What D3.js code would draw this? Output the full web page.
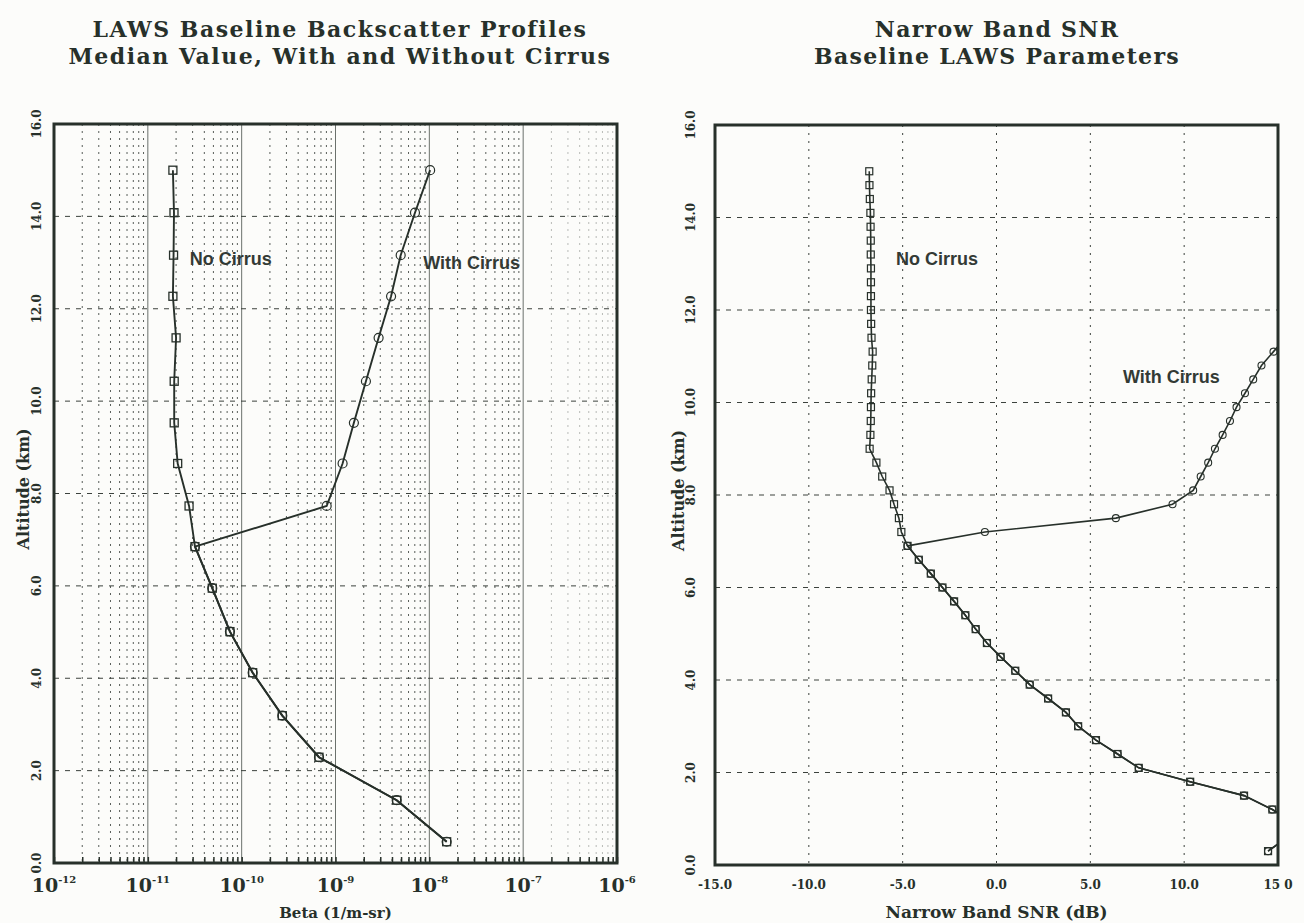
<!DOCTYPE html>
<html>
<head>
<meta charset="utf-8">
<script src="https://cdn.jsdelivr.net/npm/d3@7/dist/d3.min.js"></script>
<style>
  body { margin: 0; background: #fcfcfa; }
  svg { display: block; }
</style>
</head>
<body>
<div class="graph-goes-here"></div>
<script>
// ---- left panel: backscatter profiles (beta in 1/m-sr, altitude in km)
var betaAltitude = [0.46, 1.36, 2.29, 3.19, 4.12, 5.01, 5.95, 6.85, 7.73, 8.65, 9.53, 10.43, 11.37, 12.27, 13.16, 14.08, 15.0];
var betaNoCirrus = [1.53e-8, 4.49e-9, 6.67e-10, 2.71e-10, 1.31e-10, 7.5e-11, 4.86e-11, 3.18e-11, 2.75e-11, 2.08e-11, 1.91e-11, 1.91e-11, 2.0e-11, 1.85e-11, 1.88e-11, 1.9e-11, 1.85e-11];
var betaWithCirrus = [1.53e-8, 4.49e-9, 6.67e-10, 2.71e-10, 1.31e-10, 7.5e-11, 4.86e-11, 3.18e-11, 8.05e-10, 1.19e-9, 1.57e-9, 2.11e-9, 2.88e-9, 3.91e-9, 4.95e-9, 7.03e-9, 1.02e-8];
var betaDecades = [1e-12, 1e-11, 1e-10, 1e-9, 1e-8, 1e-7, 1e-6];
var betaExponents = ["-12", "-11", "-10", "-9", "-8", "-7", "-6"];

// ---- right panel: narrow band SNR (dB)
var snrAltitude = [15.0, 14.7, 14.4, 14.1, 13.8, 13.5, 13.2, 12.9, 12.6, 12.3, 12.0, 11.7, 11.4, 11.1, 10.8, 10.5, 10.2, 9.9, 9.6, 9.3, 9.0,
  8.7, 8.4, 8.1, 7.8, 7.5, 7.2, 6.9,
  6.6, 6.3, 6.0, 5.7, 5.4, 5.1, 4.8, 4.5, 4.2, 3.9, 3.6, 3.3, 3.0, 2.7, 2.4, 2.1, 1.8, 1.5, 1.2,
  0.9, 0.6, 0.3];
var snrNoCirrus = [-6.78, -6.77, -6.75, -6.72, -6.71, -6.70, -6.70, -6.69, -6.69, -6.69, -6.69, -6.68, -6.66, -6.60, -6.62, -6.65, -6.68, -6.69, -6.70, -6.72, -6.76,
  -6.40, -6.09, -5.70, -5.46, -5.20, -5.07, -4.74,
  -4.14, -3.50, -2.88, -2.26, -1.66, -1.11, -0.51, 0.22, 1.0, 1.77, 2.75, 3.7, 4.35, 5.3, 6.45, 7.58, 10.32, 13.19, 14.70,
  15.9, 15.5, 14.47];
var snrCirrusAltitude = [11.4, 11.1, 10.8, 10.5, 10.2, 9.9, 9.6, 9.3, 9.0, 8.7, 8.4, 8.1, 7.8, 7.5, 7.2, 6.9,
  6.6, 6.3, 6.0, 5.7, 5.4, 5.1, 4.8, 4.5, 4.2, 3.9, 3.6, 3.3, 3.0, 2.7, 2.4, 2.1, 1.8, 1.5, 1.2, 0.9, 0.6, 0.3];
var snrWithCirrus = [15.4, 14.76, 14.12, 13.68, 13.24, 12.79, 12.44, 12.05, 11.64, 11.28, 10.88, 10.48, 9.38, 6.36, -0.62, -4.74,
  -4.14, -3.50, -2.88, -2.26, -1.66, -1.11, -0.51, 0.22, 1.0, 1.77, 2.75, 3.7, 4.35, 5.3, 6.45, 7.58, 10.32, 13.19, 14.70, 15.9, 15.5, 14.47];
var snrTicks = [-15, -10, -5, 0, 5, 10, 15];
var snrTickLabels = ["-15.0", "-10.0", "-5.0", "0.0", "5.0", "10.0", "15 0"];

var altTicks = [0, 2, 4, 6, 8, 10, 12, 14, 16];

var ink = "#27302a";
var serif = "'DejaVu Serif', serif";
var sans = "'Liberation Sans', Arial, sans-serif";

var svg = d3.select(".graph-goes-here")
    .append("svg")
    .attr("width", 1304)
    .attr("height", 923);

svg.append("rect").attr("width", 1304).attr("height", 923).attr("fill", "#fcfcfa");

function addTitle(g, cx, lines, spacing) {
    lines.forEach(function (t, i) {
        g.append("text")
            .attr("x", cx).attr("y", 37 + i * 27)
            .attr("text-anchor", "middle")
            .attr("font-family", serif).attr("font-weight", "bold").attr("font-size", 22)
            .attr("letter-spacing", spacing)
            .attr("fill", ink)
            .text(t);
    });
}

// ---------------- LEFT PANEL ----------------
var lx = d3.scaleLog().domain([1e-12, 1e-6]).range([54, 617]);
var ly = d3.scaleLinear().domain([0, 16]).range([863, 124]);

var left = svg.append("g");

// minor dotted verticals
var minorBeta = [];
betaDecades.slice(0, -1).forEach(function (d) {
    for (var m = 2; m <= 9; m++) minorBeta.push(d * m);
});
left.append("g").selectAll("line")
    .data(minorBeta)
    .join("line")
    .attr("x1", d => lx(d)).attr("x2", d => lx(d))
    .attr("y1", ly(16)).attr("y2", ly(0))
    .attr("stroke", "#3c423d")
    .attr("stroke-opacity", d => d > 1e-7 ? 0.35 : 0.85)
    .attr("stroke-width", 1)
    .attr("stroke-dasharray", "2,5");

// decade solid verticals
left.append("g").selectAll("line")
    .data(betaDecades.slice(1, -1))
    .join("line")
    .attr("x1", d => lx(d)).attr("x2", d => lx(d))
    .attr("y1", ly(16)).attr("y2", ly(0))
    .attr("stroke", "#6b716c")
    .attr("stroke-width", 1);

// dashed horizontals
left.append("g").selectAll("line")
    .data(altTicks.slice(1, -1))
    .join("line")
    .attr("x1", lx(1e-12)).attr("x2", lx(1e-6))
    .attr("y1", d => ly(d)).attr("y2", d => ly(d))
    .attr("stroke", "#3c423d")
    .attr("stroke-width", 1)
    .attr("stroke-dasharray", "5,6");

// bottom ticks
left.append("g")
    .attr("transform", "translate(0," + ly(0) + ")")
    .call(d3.axisBottom(lx).tickValues(minorBeta.concat(betaDecades)).tickSize(-6).tickFormat(""))
    .call(g => g.select(".domain").remove())
    .call(g => g.selectAll(".tick line").attr("stroke", ink).attr("stroke-width", 1.5));

var lineL = d3.line().x(d => lx(d[0])).y(d => ly(d[1]));
var noCirrusL = betaNoCirrus.map((v, i) => [v, betaAltitude[i]]);
var withCirrusL = betaWithCirrus.map((v, i) => [v, betaAltitude[i]]);

left.append("path").datum(withCirrusL)
    .attr("fill", "none").attr("stroke", ink).attr("stroke-width", 1.9)
    .attr("d", lineL);
left.append("path").datum(noCirrusL)
    .attr("fill", "none").attr("stroke", ink).attr("stroke-width", 1.9)
    .attr("d", lineL);

left.append("g").selectAll("rect")
    .data(noCirrusL)
    .join("rect")
    .attr("x", d => lx(d[0]) - 4).attr("y", d => ly(d[1]) - 4)
    .attr("width", 8).attr("height", 8)
    .attr("fill", "none").attr("stroke", ink).attr("stroke-width", 1.3);
left.append("g").selectAll("circle")
    .data(withCirrusL)
    .join("circle")
    .attr("cx", d => lx(d[0])).attr("cy", d => ly(d[1]))
    .attr("r", 4.5)
    .attr("fill", "none").attr("stroke", ink).attr("stroke-width", 1.2);

// frame
left.append("rect")
    .attr("x", lx(1e-12)).attr("y", ly(16))
    .attr("width", lx(1e-6) - lx(1e-12)).attr("height", ly(0) - ly(16))
    .attr("fill", "none").attr("stroke", ink).attr("stroke-width", 3);

// x labels 10^n
var lxLabels = left.append("g").selectAll("text")
    .data(betaDecades)
    .join("text")
    .attr("x", d => lx(d))
    .attr("y", 892)
    .attr("text-anchor", "middle")
    .attr("font-family", serif).attr("font-weight", "bold")
    .attr("fill", ink);
lxLabels.append("tspan").attr("font-size", 19).text("10");
lxLabels.append("tspan").attr("font-size", 10).attr("dy", -9).text((d, i) => betaExponents[i]);

// y labels
left.append("g").selectAll("text")
    .data(altTicks)
    .join("text")
    .attr("transform", d => "translate(" + (lx(1e-12) - 17) + "," + ly(d) + ") rotate(-90)")
    .attr("dy", "0.35em")
    .attr("text-anchor", "middle")
    .attr("font-family", serif).attr("font-weight", "bold").attr("font-size", 12)
    .attr("fill", ink)
    .text(d3.format(".1f"));

left.append("text")
    .attr("x", (lx(1e-12) + lx(1e-6)) / 2).attr("y", 918)
    .attr("text-anchor", "middle")
    .attr("font-family", serif).attr("font-weight", "bold").attr("font-size", 15)
    .attr("fill", ink)
    .text("Beta (1/m-sr)");

left.append("text")
    .attr("transform", "translate(29," + ly(8.1) + ") rotate(-90)")
    .attr("text-anchor", "middle")
    .attr("font-family", serif).attr("font-weight", "bold").attr("font-size", 16)
    .attr("fill", ink)
    .text("Altitude (km)");

left.append("text").attr("x", lx(2.8e-11)).attr("y", ly(12.95))
    .attr("font-family", sans).attr("font-weight", "bold").attr("font-size", 18)
    .attr("fill", "#333a35").text("No Cirrus");
left.append("text").attr("x", lx(8.6e-9)).attr("y", ly(12.86))
    .attr("font-family", sans).attr("font-weight", "bold").attr("font-size", 18)
    .attr("fill", "#333a35").text("With Cirrus");

addTitle(left, 340, ["LAWS Baseline Backscatter Profiles", "Median Value, With and Without Cirrus"], 1.5);

// ---------------- RIGHT PANEL ----------------
var rx = d3.scaleLinear().domain([-15, 15]).range([715, 1278]);
var ry = d3.scaleLinear().domain([0, 16]).range([865, 125]);

var right = svg.append("g");

right.append("defs").append("clipPath").attr("id", "clip-right")
    .append("rect")
    .attr("x", rx(-15)).attr("y", ry(16))
    .attr("width", rx(15) - rx(-15)).attr("height", ry(0) - ry(16));

right.append("g").selectAll("line")
    .data(snrTicks.slice(1, -1))
    .join("line")
    .attr("x1", d => rx(d)).attr("x2", d => rx(d))
    .attr("y1", ry(16)).attr("y2", ry(0))
    .attr("stroke", "#3c423d").attr("stroke-width", 1)
    .attr("stroke-dasharray", "2,6");

right.append("g").selectAll("line")
    .data(altTicks.slice(1, -1))
    .join("line")
    .attr("x1", rx(-15)).attr("x2", rx(15))
    .attr("y1", d => ry(d)).attr("y2", d => ry(d))
    .attr("stroke", "#3c423d").attr("stroke-width", 1)
    .attr("stroke-dasharray", "5,6");

var plotR = right.append("g").attr("clip-path", "url(#clip-right)");
var lineR = d3.line().x(d => rx(d[0])).y(d => ry(d[1]));
var noCirrusR = snrNoCirrus.map((v, i) => [v, snrAltitude[i]]);
var withCirrusR = snrWithCirrus.map((v, i) => [v, snrCirrusAltitude[i]]);

plotR.append("path").datum(withCirrusR)
    .attr("fill", "none").attr("stroke", ink).attr("stroke-width", 1.6)
    .attr("d", lineR);
plotR.append("path").datum(noCirrusR)
    .attr("fill", "none").attr("stroke", ink).attr("stroke-width", 1.6)
    .attr("d", lineR);

plotR.append("g").selectAll("rect")
    .data(noCirrusR)
    .join("rect")
    .attr("x", d => rx(d[0]) - 3.5).attr("y", d => ry(d[1]) - 3.5)
    .attr("width", 7).attr("height", 7)
    .attr("fill", "none").attr("stroke", ink).attr("stroke-width", 1.2);
plotR.append("g").selectAll("circle")
    .data(withCirrusR)
    .join("circle")
    .attr("cx", d => rx(d[0])).attr("cy", d => ry(d[1]))
    .attr("r", 3.5)
    .attr("fill", "none").attr("stroke", ink).attr("stroke-width", 1.1);

right.append("rect")
    .attr("x", rx(-15)).attr("y", ry(16))
    .attr("width", rx(15) - rx(-15)).attr("height", ry(0) - ry(16))
    .attr("fill", "none").attr("stroke", ink).attr("stroke-width", 3);

right.append("g").selectAll("text")
    .data(snrTicks)
    .join("text")
    .attr("x", d => rx(d)).attr("y", 889)
    .attr("text-anchor", "middle")
    .attr("font-family", serif).attr("font-weight", "bold").attr("font-size", 12)
    .attr("fill", ink)
    .text((d, i) => snrTickLabels[i]);

right.append("g").selectAll("text")
    .data(altTicks)
    .join("text")
    .attr("transform", d => "translate(" + (rx(-15) - 24) + "," + ry(d) + ") rotate(-90)")
    .attr("dy", "0.35em")
    .attr("text-anchor", "middle")
    .attr("font-family", serif).attr("font-weight", "bold").attr("font-size", 12)
    .attr("fill", ink)
    .text(d3.format(".1f"));

right.append("text")
    .attr("x", (rx(-15) + rx(15)) / 2).attr("y", 918)
    .attr("text-anchor", "middle")
    .attr("font-family", serif).attr("font-weight", "bold").attr("font-size", 17)
    .attr("fill", ink)
    .text("Narrow Band SNR (dB)");

right.append("text")
    .attr("transform", "translate(684," + ry(8.1) + ") rotate(-90)")
    .attr("text-anchor", "middle")
    .attr("font-family", serif).attr("font-weight", "bold").attr("font-size", 16)
    .attr("fill", ink)
    .text("Altitude (km)");

right.append("text").attr("x", rx(-5.36)).attr("y", ry(12.97))
    .attr("font-family", sans).attr("font-weight", "bold").attr("font-size", 18)
    .attr("fill", "#333a35").text("No Cirrus");
right.append("text").attr("x", rx(6.74)).attr("y", ry(10.42))
    .attr("font-family", sans).attr("font-weight", "bold").attr("font-size", 18)
    .attr("fill", "#333a35").text("With Cirrus");

addTitle(right, 997, ["Narrow Band SNR", "Baseline LAWS Parameters"], 1.3);
</script>
</body>
</html>
